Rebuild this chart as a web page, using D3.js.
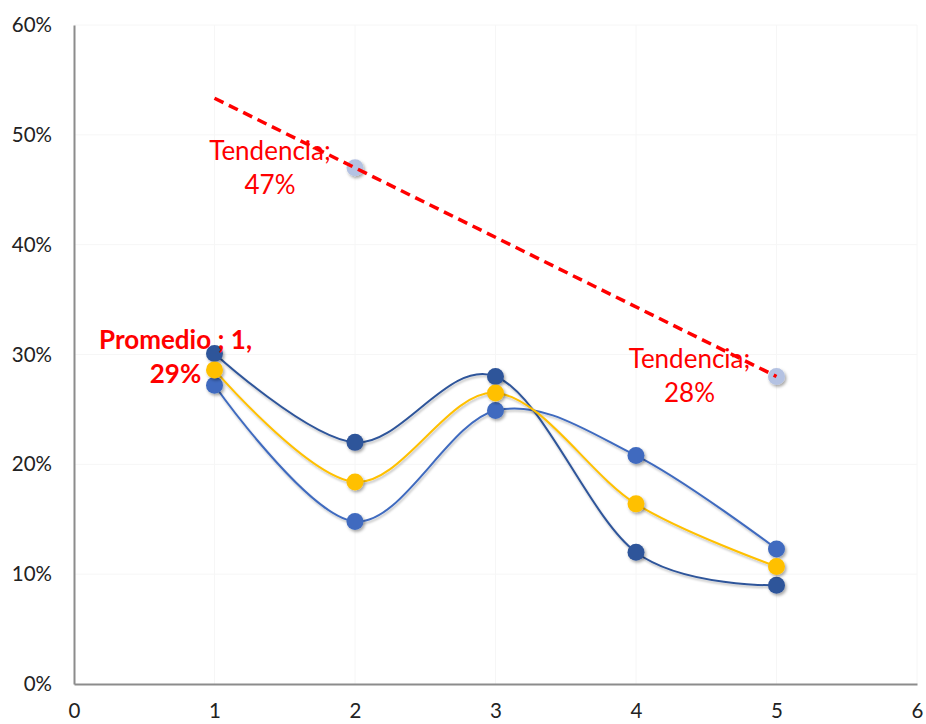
<!DOCTYPE html>
<html>
<head>
<meta charset="utf-8">
<script src="https://cdn.jsdelivr.net/npm/d3@7"></script>
<style>
  body { margin: 0; background: #fff; }
  text { font-family: Lato, "Open Sans", sans-serif; }
</style>
</head>
<body>
<div id="chart"></div>
<script>
// data
var xs = [1, 2, 3, 4, 5];
var serieAlta = [0.301, 0.220, 0.280, 0.120, 0.090];   // dark blue
var serieBaja = [0.272, 0.148, 0.249, 0.208, 0.123];   // lighter blue
var promedio  = [0.286, 0.184, 0.265, 0.164, 0.107];   // yellow
var tendX = [2, 5];
var tendY = [0.47, 0.28];
var xTicks = [0, 1, 2, 3, 4, 5, 6];
var yTicks = [0, 0.1, 0.2, 0.3, 0.4, 0.5, 0.6];

var W = 926, H = 724;
var margin = {top: 25, right: 9, bottom: 40, left: 74},
    width = W - margin.left - margin.right,
    height = H - margin.top - margin.bottom;

var x = d3.scaleLinear().domain([0, 6]).range([0, width]);
var y = d3.scaleLinear().domain([0, 0.6]).range([height, 0]);

var svg = d3.select("#chart").append("svg")
    .attr("width", W).attr("height", H);

var defs = svg.append("defs");
var f = defs.append("filter").attr("id", "shadow")
    .attr("x", "-50%").attr("y", "-50%").attr("width", "200%").attr("height", "200%");
f.append("feDropShadow").attr("dx", 1.5).attr("dy", 2).attr("stdDeviation", 1.6)
    .attr("flood-color", "#000").attr("flood-opacity", 0.35);
var fl = defs.append("filter").attr("id", "lshadow")
    .attr("x", "-10%").attr("y", "-10%").attr("width", "120%").attr("height", "120%");
fl.append("feDropShadow").attr("dx", 1).attr("dy", 2).attr("stdDeviation", 1.2)
    .attr("flood-color", "#000").attr("flood-opacity", 0.25);

var g = svg.append("g").attr("transform", "translate(" + margin.left + "," + margin.top + ")");

// faint gridlines
g.append("g").selectAll("line").data(yTicks.slice(1)).join("line")
    .attr("x1", 0).attr("x2", width)
    .attr("y1", d => y(d)).attr("y2", d => y(d))
    .attr("stroke", "#f6f6f6").attr("stroke-width", 1);
g.append("g").selectAll("line").data(xTicks.slice(1)).join("line")
    .attr("y1", 0).attr("y2", height)
    .attr("x1", d => x(d)).attr("x2", d => x(d))
    .attr("stroke", "#f6f6f6").attr("stroke-width", 1);

// axes
var xAxis = g.append("g").attr("transform", "translate(0," + height + ")")
    .call(d3.axisBottom(x).tickValues(xTicks).tickSize(0).tickPadding(19).tickFormat(d3.format("d")));
var yAxis = g.append("g")
    .call(d3.axisLeft(y).tickValues(yTicks).tickSize(0).tickPadding(22).tickFormat(d3.format(".0%")));
[xAxis, yAxis].forEach(function(a) {
  a.select(".domain").attr("stroke", "#8c8c8c").attr("stroke-width", 2);
  a.selectAll("text").attr("font-size", 20.5).attr("fill", "#222")
      .style("font-family", "Lato, 'Open Sans', sans-serif");
});
xAxis.selectAll("text").attr("dy", "0.71em");

var line = d3.line()
    .x(d => x(d[0]))
    .y(d => y(d[1]))
    .curve(d3.curveCardinal.tension(0));

function drawSeries(vals, color) {
  var pts = xs.map((v, i) => [v, vals[i]]);
  g.append("path").datum(pts)
      .attr("d", line).attr("fill", "none")
      .attr("stroke", color).attr("stroke-width", 2)
      .attr("filter", "url(#lshadow)");
  g.append("g").selectAll("circle").data(pts).join("circle")
      .attr("cx", d => x(d[0])).attr("cy", d => y(d[1]))
      .attr("r", 8.5).attr("fill", color)
      .attr("filter", "url(#shadow)");
}

// trend line through the two Tendencia points, extended to x=1
var slope = (tendY[1] - tendY[0]) / (tendX[1] - tendX[0]);
var trendPts = [1, 5].map(v => [v, tendY[0] + slope * (v - tendX[0])]);

g.append("g").selectAll("circle").data(tendX.map((v, i) => [v, tendY[i]])).join("circle")
    .attr("cx", d => x(d[0])).attr("cy", d => y(d[1]))
    .attr("r", 8.5).attr("fill", "#b4c2e2")
    .attr("filter", "url(#shadow)");

g.append("path").datum(trendPts)
    .attr("d", d3.line().x(d => x(d[0])).y(d => y(d[1])))
    .attr("fill", "none").attr("stroke", "#ff0000")
    .attr("stroke-width", 3.5).attr("stroke-dasharray", "10,6");

drawSeries(serieBaja, "#3f6bbf");
drawSeries(serieAlta, "#2f559a");
drawSeries(promedio, "#ffc000");

// data labels
function label(px, py, dx, dy, lines, bold) {
  var t = g.append("text")
      .attr("x", x(px) + dx).attr("y", y(py) + dy)
      .attr("text-anchor", "middle").attr("fill", "#ff0000")
      .attr("font-size", 26).attr("font-weight", bold ? "bold" : "normal");
  lines.forEach(function(s, i) {
    t.append("tspan").attr("x", x(px) + dx).attr("dy", i === 0 ? 0 : 34).text(s);
  });
}
label(tendX[0], tendY[0], -85, -8, ["Tendencia;", "47%"], false);
label(tendX[1], tendY[1], -87, -8, ["Tendencia;", "28%"], false);
label(xs[0], promedio[0], -39, -21, ["Promedio ; 1,", "29%"], true);
</script>
</body>
</html>
